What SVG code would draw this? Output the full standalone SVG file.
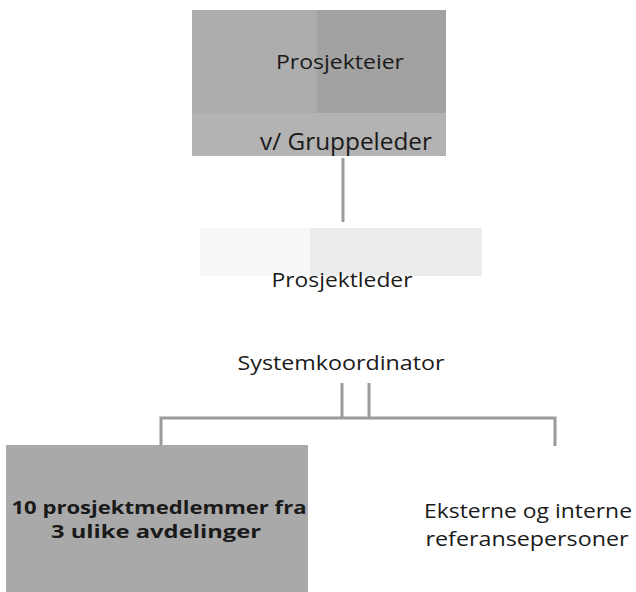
<svg xmlns="http://www.w3.org/2000/svg" width="636" height="592" viewBox="0 0 636 592">
  <style>
    .lbl { font-family: "Open Sans", "Noto Sans", "Liberation Sans", sans-serif; fill: #1a1a1a; text-anchor: middle; }
    .bold { font-weight: bold; }
    .conn { stroke: #9a9a9a; stroke-width: 3; fill: none; }
  </style>
  <rect width="636" height="592" fill="#ffffff"/>

  <!-- Org chart links -->
  <g id="connectors">
    <line class="conn" x1="343" y1="158" x2="343" y2="222"/>
    <line class="conn" x1="342" y1="383" x2="342" y2="418"/>
    <line class="conn" x1="369" y1="383" x2="369" y2="418"/>
    <polyline class="conn" points="161,446 161,418 555,418 555,446"/>
  </g>

  <!-- Project owner -->
  <g id="prosjekteier">
    <rect x="192" y="10" width="254" height="146" fill="#a2a2a2"/>
    <rect x="192" y="10" width="125" height="103" fill="#adadad"/>
    <rect x="192" y="113" width="254" height="43" fill="#b3b3b3"/>
    <text class="lbl" x="340" y="69" font-size="20" textLength="128" lengthAdjust="spacingAndGlyphs">Prosjekteier</text>
    <text class="lbl" x="346" y="150" font-size="23" textLength="172" lengthAdjust="spacingAndGlyphs">v/ Gruppeleder</text>
  </g>

  <!-- Project manager -->
  <g id="prosjektleder">
    <rect x="200" y="228" width="282" height="48" fill="#f8f8f8"/>
    <rect x="310" y="228" width="172" height="48" fill="#ececec"/>
    <text class="lbl" x="342" y="287" font-size="20" textLength="141" lengthAdjust="spacingAndGlyphs">Prosjektleder</text>
  </g>

  <!-- System coordinator -->
  <g id="systemkoordinator">
    <text class="lbl" x="341" y="370" font-size="20" textLength="207" lengthAdjust="spacingAndGlyphs">Systemkoordinator</text>
  </g>

  <!-- Project members -->
  <g id="prosjektmedlemmer">
    <rect x="6" y="445" width="302" height="147" fill="#a9a9a9"/>
    <text class="lbl bold" x="159" y="514" font-size="17" textLength="295" lengthAdjust="spacingAndGlyphs">10 prosjektmedlemmer fra</text>
    <text class="lbl bold" x="156" y="538" font-size="17" textLength="210" lengthAdjust="spacingAndGlyphs">3 ulike avdelinger</text>
  </g>

  <!-- Reference persons -->
  <g id="referansepersoner">
    <text class="lbl" x="528" y="518" font-size="20" textLength="208" lengthAdjust="spacingAndGlyphs">Eksterne og interne</text>
    <text class="lbl" x="527" y="546" font-size="20" textLength="203" lengthAdjust="spacingAndGlyphs">referansepersoner</text>
  </g>
</svg>
